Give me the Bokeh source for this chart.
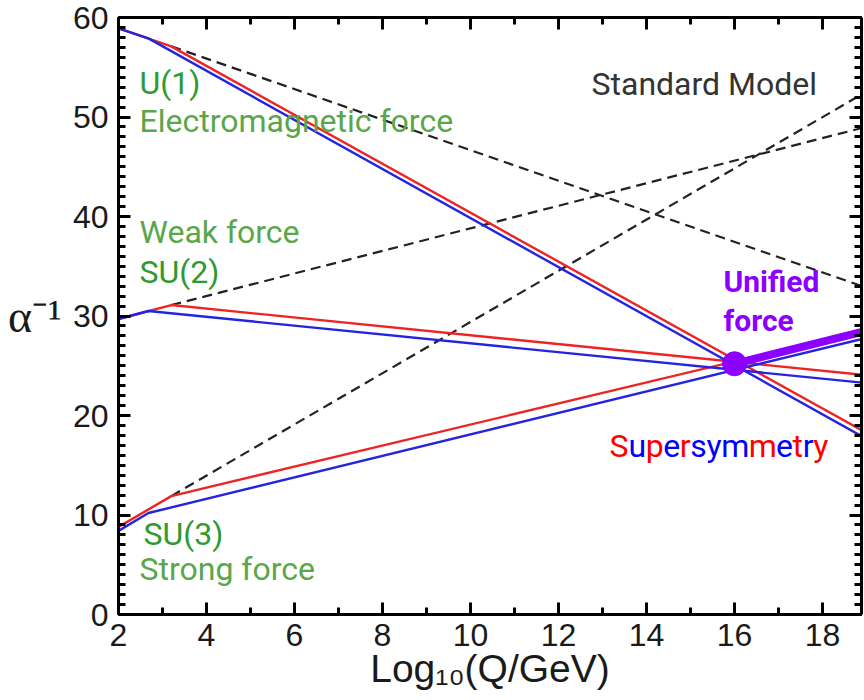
from bokeh.plotting import figure
from bokeh.models import Range1d, LinearAxis, SingleIntervalTicker, Label, CustomJSTickFormatter
from bokeh.embed import file_html
from bokeh.resources import INLINE

# ---------------- data ----------------
x_ticks_interval = 2
y_ticks_interval = 10

# Standard Model (dashed), from SUSY threshold to right edge
sm_x = [3.2, 18.9]
sm_u1 = [57.1, 33.0]
sm_su2 = [31.1, 48.9]
sm_su3 = [11.9, 52.3]

# Supersymmetry, red curves
red_x = [2.0, 3.2, 18.9]
red_u1 = [58.9, 57.1, 18.5]
red_su2 = [29.7, 31.1, 24.1]
red_su3 = [8.8, 11.9, 28.5]

# Supersymmetry, blue curves
blue_x = [2.0, 2.68, 18.9]
blue_u1 = [58.9, 57.9, 17.9]
blue_su2 = [29.7, 30.5, 23.3]
blue_su3 = [8.4, 10.2, 27.7]

# Unified force
unif_x = [16.0, 18.9]
unif_y = [25.2, 28.4]

# ---------------- figure ----------------
W = 863
BL, BT, BR = 118, 17, 2
FW, FH = W - BL - BR, 597
BB = 90
H = BT + FH + BB
p = figure(width=W, height=H, output_backend="svg", toolbar_location=None,
           x_range=Range1d(2, 2 + FW / 44.0), y_range=Range1d(0, 60),
           min_border_left=BL, min_border_right=BR, min_border_top=BT,
           min_border_bottom=BB, x_axis_type=None, y_axis_type=None)
p.outline_line_color = None
p.xgrid.visible = False
p.ygrid.visible = False
p.background_fill_color = "white"
p.border_fill_color = "white"

blank = CustomJSTickFormatter(code="return ''")

def style_axis(ax, show_labels):
    ax.axis_line_width = 3
    ax.axis_line_color = "black"
    ax.major_tick_line_width = 3
    ax.minor_tick_line_width = 3
    ax.major_tick_line_color = "black"
    ax.minor_tick_line_color = "black"
    ax.major_tick_in = 12
    ax.major_tick_out = 0
    ax.minor_tick_in = 7
    ax.minor_tick_out = 0
    if show_labels:
        ax.major_label_text_font = "Liberation Sans"
        ax.major_label_text_font_size = "32px"
        ax.major_label_text_color = "#1a1a1a"
    else:
        ax.formatter = blank
        ax.major_label_text_color = None
        ax.major_label_standoff = 0

xb = LinearAxis(ticker=SingleIntervalTicker(interval=x_ticks_interval, num_minor_ticks=2))
style_axis(xb, True)
xb.major_label_standoff = 9
xb.axis_label = "Log₁₀(Q/GeV)"
xb.axis_label_text_font = "Liberation Sans"
xb.axis_label_text_font_size = "39px"
xb.axis_label_text_font_style = "normal"
xb.axis_label_text_color = "#1a1a1a"
xb.axis_label_standoff = -2
p.add_layout(xb, "below")

xt = LinearAxis(ticker=SingleIntervalTicker(interval=x_ticks_interval, num_minor_ticks=2))
style_axis(xt, False)
p.add_layout(xt, "above")

yl = LinearAxis(ticker=SingleIntervalTicker(interval=y_ticks_interval, num_minor_ticks=10))
style_axis(yl, True)
yl.major_label_standoff = 10
yl.axis_label = "α⁻¹"
yl.axis_label_orientation = "horizontal"
yl.axis_label_text_font = "Liberation Serif"
yl.axis_label_text_font_size = "46px"
yl.axis_label_text_font_style = "normal"
yl.axis_label_text_color = "#1a1a1a"
yl.axis_label_standoff = 8
p.add_layout(yl, "left")

yr = LinearAxis(ticker=SingleIntervalTicker(interval=y_ticks_interval, num_minor_ticks=10))
style_axis(yr, False)
p.add_layout(yr, "right")

RED = "#ee2424"
BLUE = "#2424e0"
PURPLE = "#8c00ff"
DASH = "#222222"

for ys in (sm_u1, sm_su2, sm_su3):
    p.line(sm_x, ys, line_color=DASH, line_width=2.2, line_dash="10 6")
for ys in (red_u1, red_su2, red_su3):
    p.line(red_x, ys, line_color=RED, line_width=2.4, line_join="round")
for ys in (blue_u1, blue_su2, blue_su3):
    p.line(blue_x, ys, line_color=BLUE, line_width=2.4, line_join="round")
p.line(unif_x, unif_y, line_color=PURPLE, line_width=8)
p.scatter(unif_x[:1], unif_y[:1], size=24, color=PURPLE)

# ---------------- texts ----------------
# target positions given in screenshot pixels (left, baseline)
FL, FB = 1 + BL, 1 + BT + FH
YCORR = 11

def lab(txt, px, py, color, size="32px", font="Roboto", style="normal"):
    p.add_layout(Label(x=px - FL, y=FB - py + YCORR, x_units="screen", y_units="screen",
                       text=txt, text_color=color, text_font_size=size,
                       text_font=font, text_font_style=style, text_align="left",
                       text_baseline="alphabetic"))

DKG = "#2f9a2f"
LTG = "#5aa64a"
lab("U(1)", 140, 94, DKG)
lab("Electromagnetic force", 140, 132, LTG)
lab("Weak force", 140, 243, LTG)
lab("SU(2)", 140, 283, DKG)
lab("SU(3)", 144, 545, DKG)
lab("Strong force", 140, 580, LTG)
lab("Standard Model", 592, 95, "#333333")
lab("Unified", 724, 293, PURPLE, size="30px", style="bold")
lab("force", 724, 332, PURPLE, size="30px", style="bold")

# Supersymmetry with colored letters
letters = list("Supersymmetry")
colors = ["red", "blue", "red", "blue", "red", "blue", "blue", "blue", "red", "blue", "red", "blue", "red"]
adv = {"S": .594, "u": .538, "p": .547, "e": .517, "r": .331, "s": .504,
       "y": .462, "m": .855, "t": .320}
cx = 610.0
for ch, c in zip(letters, colors):
    lab(ch, cx, 457, "#ff0000" if c == "red" else "#0000ff")
    cx += adv[ch] * 32

open("out.html", "w").write(file_html(p, INLINE))
